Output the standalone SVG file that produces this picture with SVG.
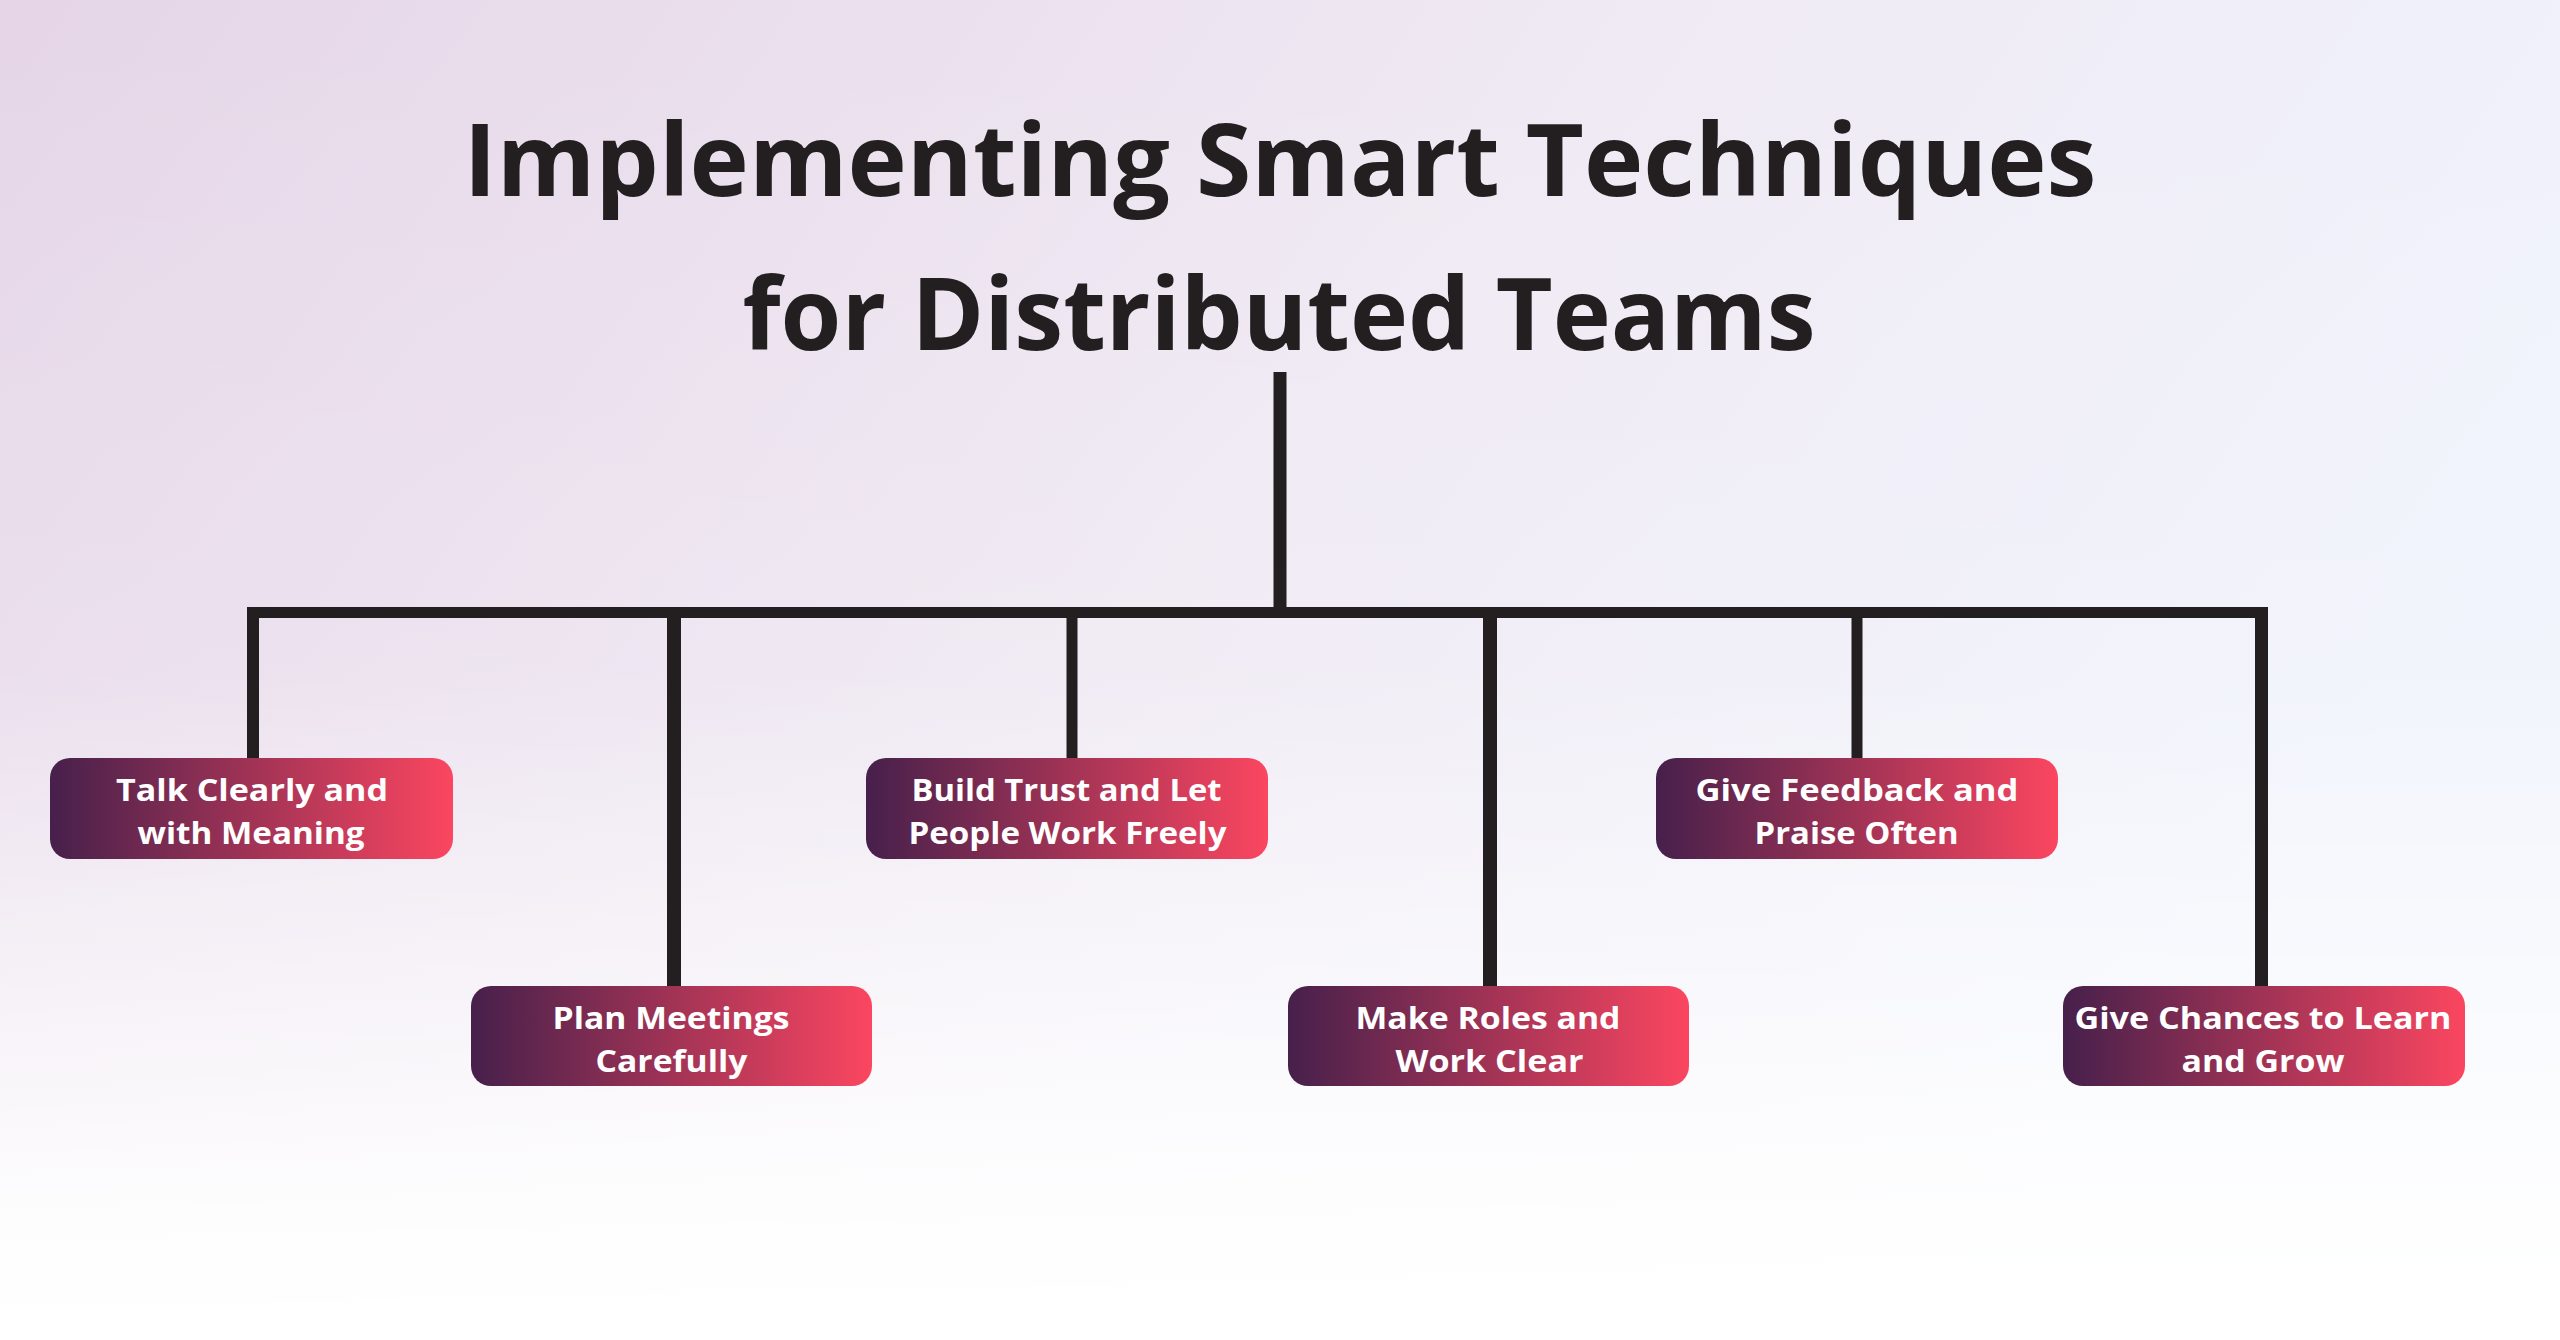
<svg xmlns="http://www.w3.org/2000/svg" width="2560" height="1340" viewBox="0 0 2560 1340">
<defs>
<linearGradient id="bgH" x1="0" y1="0" x2="1" y2="0.35">
<stop offset="0" stop-color="#e5d5e7"/>
<stop offset="0.55" stop-color="#efe9f3"/>
<stop offset="1" stop-color="#f0f3fc"/>
</linearGradient>
<linearGradient id="bgV" x1="0" y1="0" x2="0" y2="1">
<stop offset="0" stop-color="#ffffff" stop-opacity="0"/>
<stop offset="0.5" stop-color="#ffffff" stop-opacity="0.12"/>
<stop offset="0.92" stop-color="#ffffff" stop-opacity="0.95"/>
<stop offset="1" stop-color="#ffffff" stop-opacity="1"/>
</linearGradient>
<linearGradient id="box" x1="0" y1="0" x2="1" y2="0">
<stop offset="0" stop-color="#46204b"/>
<stop offset="1" stop-color="#fb4660"/>
</linearGradient>
</defs>
<style>
.title{font-family:"Open Sans","Noto Sans",sans-serif;font-weight:700;font-size:100px;fill:#231f20;text-anchor:middle}
.node rect{fill:url(#box)}
.node text{font-family:"Open Sans","Noto Sans",sans-serif;font-weight:700;font-size:31px;fill:#ffffff;text-anchor:middle}
.conn line{stroke:#231f20;stroke-width:12;stroke-linecap:butt}
</style>
<rect x="0" y="0" width="2560" height="1340" fill="url(#bgH)"/>
<rect x="0" y="0" width="2560" height="1340" fill="url(#bgV)"/>
<g id="title">
<text class="title" x="1280" y="196" textLength="1633" lengthAdjust="spacingAndGlyphs">Implementing Smart Techniques</text>
<text class="title" x="1279" y="350" textLength="1073" lengthAdjust="spacingAndGlyphs">for Distributed Teams</text>
</g>
<g id="connectors" class="conn">
<line x1="1280" y1="372" x2="1280" y2="613" style="stroke-width:13"/>
<line x1="247" y1="612.5" x2="2268" y2="612.5" style="stroke-width:11"/>
<line x1="253" y1="607" x2="253" y2="760"/>
<line x1="674" y1="607" x2="674" y2="988" style="stroke-width:14"/>
<line x1="1072" y1="607" x2="1072" y2="760" style="stroke-width:11"/>
<line x1="1490" y1="607" x2="1490" y2="988" style="stroke-width:14"/>
<line x1="1857" y1="607" x2="1857" y2="760" style="stroke-width:11"/>
<line x1="2261.5" y1="607" x2="2261.5" y2="988" style="stroke-width:13"/>
</g>
<g id="node-talk" class="node">
<rect x="50" y="758" width="403" height="101" rx="20"/>
<text x="252" y="801" textLength="272" lengthAdjust="spacingAndGlyphs">Talk Clearly and</text>
<text x="251" y="844" textLength="227" lengthAdjust="spacingAndGlyphs">with Meaning</text>
</g>
<g id="node-plan" class="node">
<rect x="471" y="986" width="401" height="100" rx="20"/>
<text x="671" y="1029" textLength="237" lengthAdjust="spacingAndGlyphs">Plan Meetings</text>
<text x="671.5" y="1072" textLength="152" lengthAdjust="spacingAndGlyphs">Carefully</text>
</g>
<g id="node-trust" class="node">
<rect x="866" y="758" width="402" height="101" rx="20"/>
<text x="1066.5" y="801" textLength="310" lengthAdjust="spacingAndGlyphs">Build Trust and Let</text>
<text x="1067.5" y="844" textLength="318" lengthAdjust="spacingAndGlyphs">People Work Freely</text>
</g>
<g id="node-roles" class="node">
<rect x="1288" y="986" width="401" height="100" rx="20"/>
<text x="1488" y="1029" textLength="265" lengthAdjust="spacingAndGlyphs">Make Roles and</text>
<text x="1489.5" y="1072" textLength="188" lengthAdjust="spacingAndGlyphs">Work Clear</text>
</g>
<g id="node-feedback" class="node">
<rect x="1656" y="758" width="402" height="101" rx="20"/>
<text x="1857" y="801" textLength="323" lengthAdjust="spacingAndGlyphs">Give Feedback and</text>
<text x="1856.5" y="844" textLength="204" lengthAdjust="spacingAndGlyphs">Praise Often</text>
</g>
<g id="node-learn" class="node">
<rect x="2063" y="986" width="402" height="100" rx="20"/>
<text x="2263" y="1029" textLength="377" lengthAdjust="spacingAndGlyphs">Give Chances to Learn</text>
<text x="2263" y="1072" textLength="163" lengthAdjust="spacingAndGlyphs">and Grow</text>
</g>
</svg>
